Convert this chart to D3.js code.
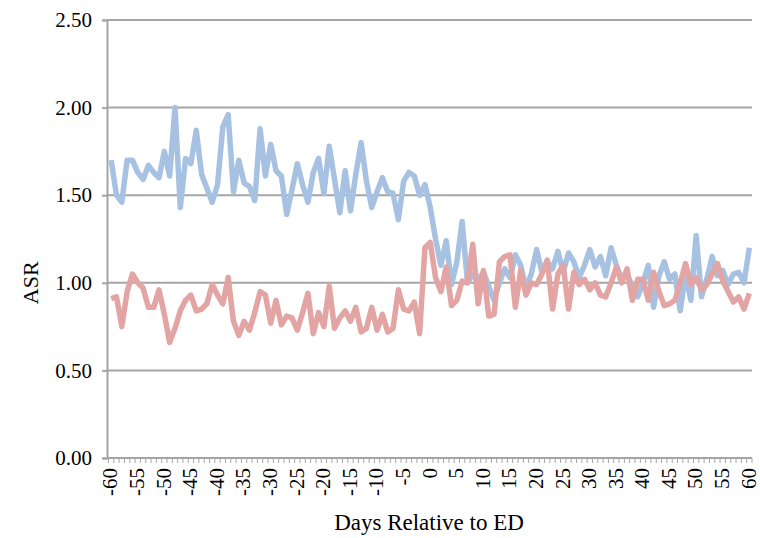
<!DOCTYPE html>
<html>
<head>
<meta charset="utf-8">
<script src="https://cdn.jsdelivr.net/npm/d3@7"></script>
<style>
  body { margin: 0; background: #ffffff; }
  text { font-family: "Liberation Serif", "Times New Roman", serif; fill: #000; }
</style>
</head>
<body>
<script>
// days relative to ED, -60 .. 60
var days = d3.range(-60, 61);

// ASR, upper (blue) series
var asrBlue = [1.70, 1.50, 1.46, 1.70, 1.70, 1.63, 1.59, 1.67, 1.63, 1.60,
               1.75, 1.61, 2.00, 1.43, 1.71, 1.68, 1.87, 1.62, 1.54, 1.46,
               1.56, 1.89, 1.96, 1.52, 1.70, 1.57, 1.55, 1.47, 1.88, 1.61,
               1.79, 1.64, 1.61, 1.39, 1.53, 1.68, 1.56, 1.46, 1.63, 1.71,
               1.51, 1.78, 1.59, 1.40, 1.64, 1.41, 1.62, 1.80, 1.58, 1.43,
               1.52, 1.60, 1.52, 1.51, 1.36, 1.58, 1.63, 1.61, 1.50, 1.56,
               1.43, 1.25, 1.10, 1.24, 0.99, 1.12, 1.35, 1.00, 1.05, 1.02,
               1.06, 0.98, 0.90, 1.00, 1.08, 1.03, 1.16, 1.10, 0.97, 1.05,
               1.19, 1.06, 1.12, 1.08, 1.18, 1.06, 1.17, 1.12, 1.03, 1.10,
               1.19, 1.09, 1.15, 1.04, 1.20, 1.10, 1.02, 1.05, 0.98, 0.92,
               1.00, 1.10, 0.86, 1.04, 1.12, 1.02, 1.05, 0.84, 1.05, 0.90,
               1.27, 0.92, 1.02, 1.15, 1.04, 1.07, 0.99, 1.05, 1.06, 1.00,
               1.20];

// ASR, lower (red) series
var asrRed = [0.91, 0.92, 0.75, 0.95, 1.05, 1.00, 0.97, 0.86, 0.86, 0.96,
              0.82, 0.66, 0.74, 0.84, 0.90, 0.93, 0.84, 0.85, 0.88, 0.99,
              0.93, 0.88, 1.03, 0.78, 0.70, 0.78, 0.73, 0.83, 0.95, 0.93,
              0.77, 0.90, 0.76, 0.81, 0.80, 0.73, 0.83, 0.94, 0.71, 0.83,
              0.75, 0.98, 0.74, 0.80, 0.84, 0.78, 0.86, 0.72, 0.74, 0.86,
              0.73, 0.82, 0.72, 0.74, 0.96, 0.85, 0.84, 0.89, 0.71, 1.20,
              1.23, 1.03, 0.95, 1.09, 0.87, 0.90, 1.01, 1.00, 1.22, 0.88,
              1.07, 0.81, 0.82, 1.12, 1.15, 1.16, 0.86, 1.07, 0.93, 1.00,
              0.99, 1.05, 1.13, 0.85, 1.05, 1.10, 0.85, 1.06, 0.99, 1.02,
              0.96, 1.00, 0.93, 0.92, 1.00, 1.09, 1.00, 1.08, 0.90, 1.02,
              1.02, 0.90, 1.06, 0.95, 0.87, 0.88, 0.90, 1.00, 1.11, 0.99,
              1.03, 0.96, 0.99, 1.05, 1.11, 1.01, 0.95, 0.89, 0.92, 0.85,
              0.94];

// y ticks
var yTicks = [0, 0.5, 1.0, 1.5, 2.0, 2.5];

var w = 760;
var h = 538;
var margins = {left: 107, right: 8, upper: 20, lower: 80};
var gridColor = "#a5a5a5";

var svg = d3.select("body")
            .append("svg")
            .attr("width", w)
            .attr("height", h);

// scales
var xScale = d3.scaleBand()
               .domain(days)
               .range([margins.left + 1.5, w - margins.right])
               .padding(0);

var yScale = d3.scaleLinear()
               .domain([0, 2.5])
               .range([h - margins.lower, margins.upper]);

function xc(i) {
  return xScale(days[i]) + xScale.bandwidth() / 2;
}

// horizontal gridlines
svg.append("g")
   .selectAll("line")
   .data(yTicks.slice(1))
   .enter()
   .append("line")
   .attr("x1", margins.left)
   .attr("x2", w - margins.right)
   .attr("y1", function(d) { return yScale(d); })
   .attr("y2", function(d) { return yScale(d); })
   .attr("stroke", gridColor)
   .attr("stroke-width", 2);

// y axis
var yAxis = svg.append("g")
               .attr("transform", "translate(" + margins.left + ",0)")
               .call(d3.axisLeft(yScale)
                       .tickValues(yTicks)
                       .tickSize(5)
                       .tickPadding(10)
                       .tickFormat(d3.format(".2f")));
yAxis.select(".domain").attr("stroke", gridColor).attr("stroke-width", 2);
yAxis.selectAll(".tick line").attr("stroke", gridColor).attr("stroke-width", 2);
yAxis.selectAll("text")
     .style("font-family", "Liberation Serif")
     .style("font-size", "21px")
     .attr("fill", "#000");

// x axis line with a tick between every category
var xAxis = svg.append("g").attr("class", "xaxis");
xAxis.append("line")
     .attr("x1", margins.left)
     .attr("x2", w - margins.right)
     .attr("y1", yScale(0))
     .attr("y2", yScale(0))
     .attr("stroke", gridColor)
     .attr("stroke-width", 2);
xAxis.selectAll(".tk")
     .data(days.concat([61]))
     .enter()
     .append("line")
     .attr("class", "tk")
     .attr("x1", function(d, i) { return xScale.range()[0] + i * xScale.bandwidth(); })
     .attr("x2", function(d, i) { return xScale.range()[0] + i * xScale.bandwidth(); })
     .attr("y1", yScale(0))
     .attr("y2", yScale(0) + 5)
     .attr("stroke", gridColor)
     .attr("stroke-width", 1);

// rotated x labels every 5 days
xAxis.selectAll(".label")
     .data(days.filter(function(d) { return d % 5 === 0; }))
     .enter()
     .append("text")
     .attr("class", "label")
     .attr("transform", function(d) {
        return "translate(" + (xScale(d) + xScale.bandwidth() / 2) + "," + (yScale(0) + 10) + ") rotate(-90)";
     })
     .attr("dy", "0.3em")
     .style("text-anchor", "end")
     .style("font-size", "21px")
     .text(function(d) { return d; });

// lines
var line = d3.line()
             .x(function(d, i) { return xc(i); })
             .y(function(d) { return yScale(d); });

svg.append("path")
   .datum(asrBlue)
   .attr("d", line)
   .attr("fill", "none")
   .attr("stroke", "#a6c1e1")
   .attr("stroke-width", 5.5)
   .attr("stroke-linejoin", "round");

svg.append("path")
   .datum(asrRed)
   .attr("d", line)
   .attr("fill", "none")
   .attr("stroke", "#e2a5a4")
   .attr("stroke-width", 5.5)
   .attr("stroke-linejoin", "round");

// axis titles
svg.append("text")
   .attr("transform", "translate(38," + yScale(1.0) + ") rotate(-90)")
   .style("text-anchor", "middle")
   .style("font-size", "22px")
   .text("ASR");

svg.append("text")
   .attr("x", 429)
   .attr("y", 530)
   .style("text-anchor", "middle")
   .style("font-size", "23px")
   .text("Days Relative to ED");
</script>
</body>
</html>
